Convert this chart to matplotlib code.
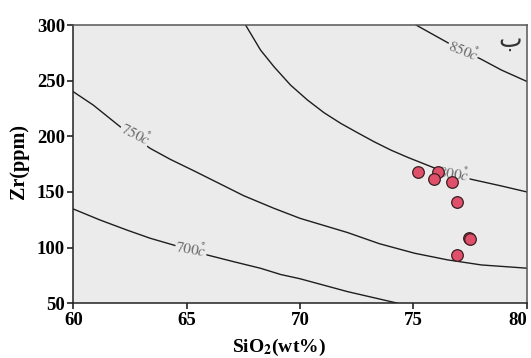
import matplotlib
matplotlib.use("Agg")
import matplotlib.pyplot as plt

plt.rcParams["mathtext.fontset"] = "stix"

# Isotherm curves
c700_x = [60, 61.18, 62.36, 63.39, 64.42, 65.9, 67.08, 68.26, 69.15, 70, 72.1, 74.31]
c700_y = [134.7, 124.8, 115.8, 108.4, 102.3, 93.4, 87.3, 81.4, 75.8, 72.0, 60.4, 50]
c750_x = [60, 60.88, 62.07, 63.39, 64.28, 65.31, 66.49, 67.52, 68.85, 70, 72.1, 73.5, 75.06, 76.5, 78, 80]
c750_y = [240.1, 228.1, 208.6, 189.2, 179.3, 169.1, 157.1, 146.6, 135.3, 126.3, 113.5, 103.5, 94.9, 89.0, 84.4, 81.5]
c800_x = [67.60, 68.26, 68.85, 69.58, 70.33, 71.06, 71.80, 72.54, 73.27, 74.01, 74.75, 75.49, 76.08, 76.8, 77.55, 78.88, 80.03]
c800_y = [300, 277.5, 262.6, 246.1, 232.6, 221.2, 211.6, 203.2, 195.1, 187.6, 181.1, 175.1, 170.3, 165.5, 161.4, 155.4, 149.9]
c850_x = [75.12, 75.78, 76.52, 77.2, 78.0, 78.88, 80.03]
c850_y = [300, 292.5, 284.1, 277.0, 269.2, 259.6, 249.1]

# Samples
sio2 = [75.19, 76.08, 75.93, 76.70, 76.93, 77.45, 77.50, 76.93]
zr = [168.2, 168.2, 161.6, 159.2, 141.2, 108.8, 107.5, 93.3]

labels = ["700", "750", "800", "850"]
label_pos = [(65.2, 99.0, -10), (62.75, 202.5, -27), (76.8, 166.5, -9), (77.2, 277.5, -22)]

xticks = [60, 65, 70, 75, 80]
yticks = [50, 100, 150, 200, 250, 300]

fig = plt.figure(figsize=(5.31, 3.58), dpi=100)
ax = fig.add_axes([0.138, 0.153, 0.854, 0.777])
bg = "#ebebeb"
ax.set_facecolor(bg)

for cx, cy in [(c700_x, c700_y), (c750_x, c750_y), (c800_x, c800_y), (c850_x, c850_y)]:
    ax.plot(cx, cy, color="#1e1e1e", lw=1.0, zorder=2, solid_joinstyle="round")

for lab, (lx, ly, rot) in zip(labels, label_pos):
    ax.text(lx, ly, r"$\mathit{" + lab + r"}\overset{\circ}{\mathit{c}}$",
            fontsize=11, color="#6a6a6a", rotation=rot, ha="center", va="center",
            rotation_mode="anchor",
            bbox=dict(boxstyle="square,pad=0.02", fc=bg, ec="none"), zorder=3)

ax.scatter(sio2, zr, s=70, color="#e0506b", edgecolor="#3a1f22", linewidth=0.9, zorder=4)

ax.text(79.25, 286, "ب", family=["DejaVu Serif", "DejaVu Sans"], fontsize=18, color="#333333",
        ha="center", va="center")

ax.set_xlim(60, 80)
ax.set_ylim(50, 300)
ax.set_xticks(xticks)
ax.set_yticks(yticks)
tickfont = dict(family="Liberation Serif", weight="bold", size=13.5)
ax.set_xticklabels([str(t) for t in xticks], **tickfont)
ax.set_yticklabels([str(t) for t in yticks], **tickfont)
ax.get_xticklabels()[-1].set_horizontalalignment("right")
ax.tick_params(direction="out", length=4, width=1.2, color="#222222", pad=2)
for s in ax.spines.values():
    s.set_color("#555555")
    s.set_linewidth(1.1)
ax.spines["left"].set_color("#222222")
ax.spines["bottom"].set_color("#222222")

fig.text(0.036, 0.55, "Zr(ppm)", rotation=90, ha="center", va="center",
         family="Liberation Serif", weight="bold", size=14.5)
fig.text(0.525, 0.03, r"SiO$_\mathbf{2}$(wt%)", ha="center", va="center",
         family="Liberation Serif", weight="bold", size=14)

fig.savefig("out.png", dpi=100, facecolor="white")
